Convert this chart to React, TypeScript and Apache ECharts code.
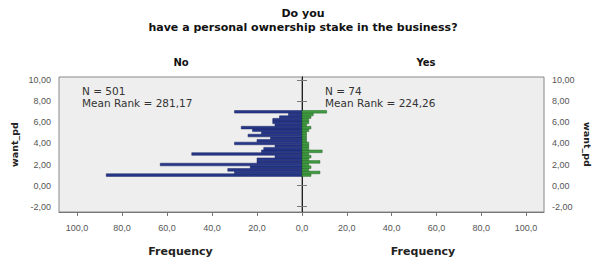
import React, { useEffect, useRef } from "react";
import * as echarts from "echarts";

// Histogram bins (lower edge of each bin, bin width 0.25)
const binLower = [
  0.875, 1.125, 1.375, 1.625, 1.875, 2.125, 2.375, 2.625, 2.875, 3.125, 3.375, 3.625, 3.875,
  4.125, 4.375, 4.625, 4.875, 5.125, 5.375, 5.625, 5.875, 6.125, 6.375, 6.625, 6.875,
];
const binWidth = 0.25;
// Frequencies, group "No" (N = 501)
const noCounts = [87, 30, 33, 23, 63, 20, 20, 12, 49, 18, 17, 12, 30, 20, 14, 24, 18, 22, 27, 12, 13, 13, 10, 6, 30];
// Frequencies, group "Yes" (N = 74)
const yesCounts = [4, 8, 3, 4, 3, 8, 3, 4, 3, 9, 3, 3, 3, 2, 2, 2, 2, 3, 4, 2, 3, 3, 4, 5, 11];

const yTicks = [-2, 0, 2, 4, 6, 8, 10];
const xTicks = [0, 20, 40, 60, 80, 100];
const xTicksRight = [20, 40, 60, 80, 100];

const titleLines = ["Do you", "have a personal ownership stake in the business?"];
const groupNames = ["No", "Yes"];
const statsNo = ["N = 501", "Mean Rank = 281,17"];
const statsYes = ["N = 74", "Mean Rank = 224,26"];
const yName = "want_pd";

const FONT = "Liberation Sans, Arial, sans-serif";
const BOLDFONT = "DejaVu Sans, sans-serif";

function makeRender(fill: string, stroke: string) {
  return (params: any, api: any) => {
    const lo = api.value(0);
    const hi = api.value(1);
    const f = api.value(2);
    const a = api.coord([0, hi]);
    const b = api.coord([f, lo]);
    return {
      type: "rect",
      shape: {
        x: Math.min(a[0], b[0]),
        y: Math.min(a[1], b[1]),
        width: Math.abs(b[0] - a[0]),
        height: Math.abs(b[1] - a[1]),
      },
      style: { fill, stroke, lineWidth: 0.5 },
    };
  };
}

export default function App() {
  const ref = useRef<HTMLDivElement>(null);
  useEffect(() => {
    if (!ref.current) return;
    const chart = echarts.init(ref.current, null, { renderer: "svg" });
    const noData = binLower.map((lo, i) => [lo, lo + binWidth, noCounts[i]]);
    const yesData = binLower.map((lo, i) => [lo, lo + binWidth, yesCounts[i]]);
    const yLabelFmt = (v: number) => v.toFixed(2).replace(".", ",");
    const xLabelFmt = (v: number) => v.toFixed(1).replace(".", ",");
    const axisLineStyle = { color: "#777", width: 1 };
    const yCommon = {
      type: "value",
      min: -2.5,
      max: 10.3,
      splitLine: { show: false },
      axisLine: { show: true, lineStyle: axisLineStyle },
      axisTick: { show: true, length: 5, customValues: yTicks, lineStyle: { color: "#777" } },
      axisLabel: {
        customValues: yTicks,
        formatter: yLabelFmt,
        fontSize: 9,
        color: "#555",
        fontFamily: FONT,
        margin: 8,
      },
      name: yName,
      nameLocation: "middle",
      nameTextStyle: { fontSize: 9.5, fontWeight: "bold", color: "#222", fontFamily: BOLDFONT },
    };
    const xCommon = {
      type: "value",
      min: 0,
      max: 108,
      splitLine: { show: false },
      axisLine: { show: true, onZero: false, lineStyle: axisLineStyle },
      name: "Frequency",
      nameLocation: "middle",
      nameGap: 34,
      nameTextStyle: { fontSize: 11, fontWeight: "bold", color: "#222", fontFamily: BOLDFONT },
    };
    const option: any = {
      animation: false,
      backgroundColor: "#ffffff",
      grid: [
        { left: 59, top: 77, width: 243, height: 135, show: true, backgroundColor: "#eeeeee", borderWidth: 1, borderColor: "#888" },
        { left: 302, top: 77, width: 248, height: 135, show: true, backgroundColor: "#eeeeee", borderWidth: 1, borderColor: "#888" },
      ],
      xAxis: [
        {
          ...xCommon,
          gridIndex: 0,
          inverse: true,
          axisTick: { show: true, length: 4, customValues: xTicks, lineStyle: { color: "#777" } },
          axisLabel: { customValues: xTicks, formatter: xLabelFmt, fontSize: 9, color: "#555", fontFamily: FONT, margin: 11 },
        },
        {
          ...xCommon,
          gridIndex: 1,
          axisTick: { show: true, length: 4, customValues: xTicks, lineStyle: { color: "#777" } },
          axisLabel: { customValues: xTicksRight, formatter: xLabelFmt, fontSize: 9, color: "#555", fontFamily: FONT, margin: 11 },
        },
      ],
      yAxis: [
        { ...yCommon, gridIndex: 0, position: "left", nameRotate: 90, nameGap: 40 },
        { ...yCommon, gridIndex: 1, position: "right", nameRotate: -90, nameGap: 38 },
        {
          type: "value",
          gridIndex: 1,
          min: -2.5,
          max: 10.3,
          position: "left",
          splitLine: { show: false },
          axisLine: { show: true, lineStyle: { color: "#222", width: 1 } },
          axisTick: { show: false },
          axisLabel: { show: false },
        },
      ],
      series: [
        {
          type: "custom",
          xAxisIndex: 0,
          yAxisIndex: 0,
          data: noData,
          encode: { x: 2, y: [0, 1] },
          renderItem: makeRender("#26378a", "#1c2660"),
        },
        {
          type: "custom",
          xAxisIndex: 1,
          yAxisIndex: 1,
          data: yesData,
          encode: { x: 2, y: [0, 1] },
          renderItem: makeRender("#3e9c3e", "#24622a"),
        },
      ],
      graphic: [
        {
          type: "text",
          x: 303,
          y: 13,
          style: { text: titleLines[0], fontSize: 11, fontWeight: "bold", fill: "#111", fontFamily: BOLDFONT, align: "center", verticalAlign: "middle" },
        },
        {
          type: "text",
          x: 303,
          y: 27,
          style: { text: titleLines[1], fontSize: 11, fontWeight: "bold", fill: "#111", fontFamily: BOLDFONT, align: "center", verticalAlign: "middle" },
        },
        {
          type: "text",
          x: 181,
          y: 62,
          style: { text: groupNames[0], fontSize: 10, fontWeight: "bold", fill: "#111", fontFamily: BOLDFONT, align: "center", verticalAlign: "middle" },
        },
        {
          type: "text",
          x: 426,
          y: 62,
          style: { text: groupNames[1], fontSize: 10, fontWeight: "bold", fill: "#111", fontFamily: BOLDFONT, align: "center", verticalAlign: "middle" },
        },
        {
          type: "text",
          x: 82,
          y: 91,
          style: { text: statsNo[0], fontSize: 10.5, fill: "#333", fontFamily: "DejaVu Sans, sans-serif", align: "left", verticalAlign: "middle" },
        },
        {
          type: "text",
          x: 82,
          y: 103,
          style: { text: statsNo[1], fontSize: 10.5, fill: "#333", fontFamily: "DejaVu Sans, sans-serif", align: "left", verticalAlign: "middle" },
        },
        {
          type: "text",
          x: 325,
          y: 91,
          style: { text: statsYes[0], fontSize: 10.5, fill: "#333", fontFamily: "DejaVu Sans, sans-serif", align: "left", verticalAlign: "middle" },
        },
        {
          type: "text",
          x: 325,
          y: 103,
          style: { text: statsYes[1], fontSize: 10.5, fill: "#333", fontFamily: "DejaVu Sans, sans-serif", align: "left", verticalAlign: "middle" },
        },
      ],
    };
    chart.setOption(option);
    return () => chart.dispose();
  }, []);
  return <div ref={ref} style={{ width: 593, height: 264, position: "absolute", left: 0, top: 0 }} />;
}
